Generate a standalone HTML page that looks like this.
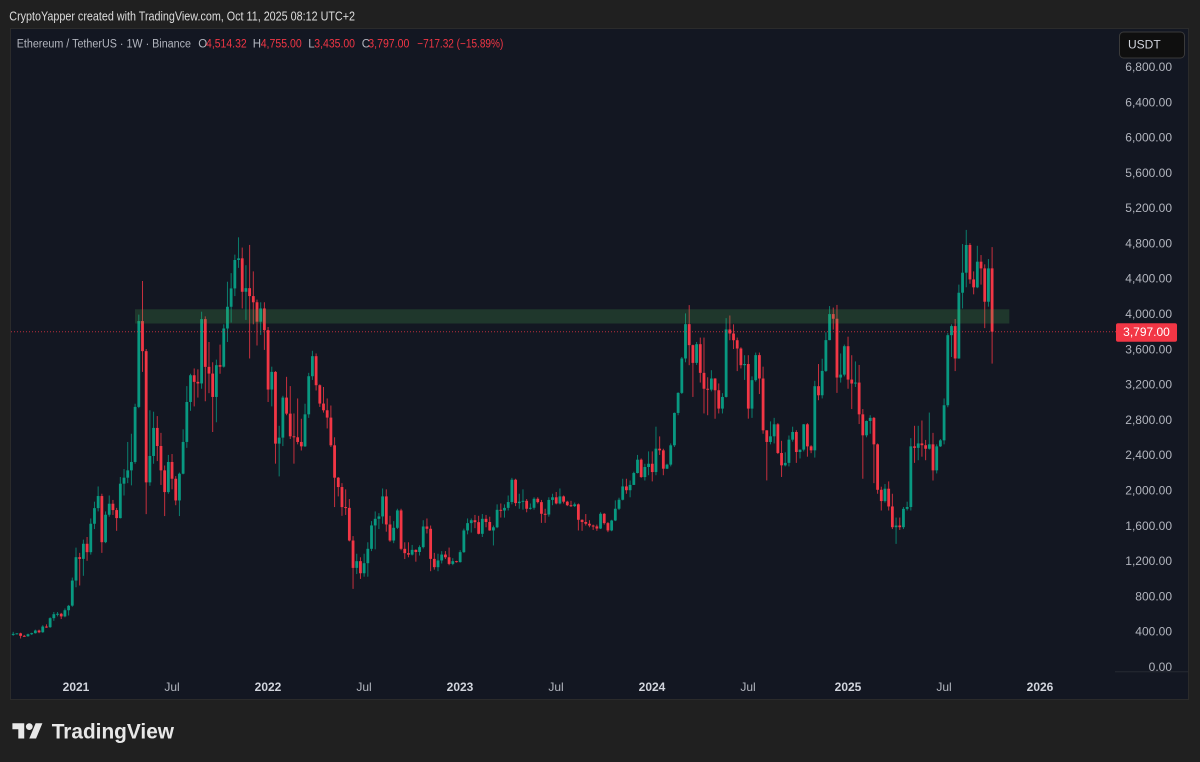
<!DOCTYPE html>
<html><head><meta charset="utf-8">
<style>
html,body{margin:0;padding:0;background:#202020;width:1200px;height:762px;overflow:hidden}
svg{display:block;font-family:"Liberation Sans",Arial,sans-serif}
</style></head>
<body>
<svg width="1200" height="762" viewBox="0 0 1200 762" xmlns="http://www.w3.org/2000/svg">
<rect width="1200" height="762" fill="#202020"/>
<text x="9.3" y="20.5" font-size="12.5" fill="#dcdcdc" textLength="345.7" lengthAdjust="spacingAndGlyphs">CryptoYapper created with TradingView.com, Oct 11, 2025 08:12 UTC+2</text>
<rect x="10.5" y="28.5" width="1178" height="671" fill="#131722" stroke="#2b2b2b"/>
<line x1="1115" y1="671.7" x2="1188" y2="671.7" stroke="#262a33"/>

<g font-size="11.5">
<text x="16.7" y="47.5" fill="#b2b5be" textLength="174.3" lengthAdjust="spacingAndGlyphs">Ethereum / TetherUS · 1W · Binance</text>
<text x="198.3" y="47.5" fill="#b2b5be">O</text>
<text x="206" y="47.5" fill="#f23645" textLength="40.7" lengthAdjust="spacingAndGlyphs">4,514.32</text>
<text x="252.7" y="47.5" fill="#b2b5be">H</text>
<text x="260.7" y="47.5" fill="#f23645" textLength="41" lengthAdjust="spacingAndGlyphs">4,755.00</text>
<text x="308.3" y="47.5" fill="#b2b5be">L</text>
<text x="314.3" y="47.5" fill="#f23645" textLength="40.7" lengthAdjust="spacingAndGlyphs">3,435.00</text>
<text x="361.7" y="47.5" fill="#b2b5be">C</text>
<text x="368.3" y="47.5" fill="#f23645" textLength="41" lengthAdjust="spacingAndGlyphs">3,797.00</text>
<text x="417.3" y="47.5" fill="#f23645" textLength="86" lengthAdjust="spacingAndGlyphs">−717.32 (−15.89%)</text>
</g>

<g id="c"></g>

<rect x="135" y="309.3" width="874.3" height="14.2" fill="rgba(76,175,80,0.22)"/>
<line x1="11" y1="331.7" x2="1116" y2="331.7" stroke="#f23645" stroke-opacity="0.75" stroke-dasharray="1 2"/>

<g font-size="12" fill="#b2b5be" text-anchor="end">
<text x="1172" y="71">6,800.00</text>
<text x="1172" y="106.3">6,400.00</text>
<text x="1172" y="141.6">6,000.00</text>
<text x="1172" y="176.9">5,600.00</text>
<text x="1172" y="212.2">5,200.00</text>
<text x="1172" y="247.4">4,800.00</text>
<text x="1172" y="282.7">4,400.00</text>
<text x="1172" y="318">4,000.00</text>
<text x="1172" y="353.3">3,600.00</text>
<text x="1172" y="388.6">3,200.00</text>
<text x="1172" y="423.9">2,800.00</text>
<text x="1172" y="459.2">2,400.00</text>
<text x="1172" y="494.5">2,000.00</text>
<text x="1172" y="529.8">1,600.00</text>
<text x="1172" y="565.1">1,200.00</text>
<text x="1172" y="600.4">800.00</text>
<text x="1172" y="635.7">400.00</text>
<text x="1172" y="671">0.00</text>
</g>

<rect x="1116" y="323.3" width="61" height="18.4" rx="2" fill="#f23645"/>
<text x="1146.5" y="336.2" font-size="12" fill="#ffffff" text-anchor="middle">3,797.00</text>

<rect x="1119.5" y="32" width="65" height="26" rx="4" fill="#0f0f0f" stroke="#3a3a3a"/>
<text x="1128" y="48.5" font-size="12" fill="#d1d4dc">USDT</text>

<g font-size="12" text-anchor="middle">
<text x="76" y="691" fill="#d1d4dc" font-weight="bold">2021</text>
<text x="172" y="691" fill="#b2b5be">Jul</text>
<text x="268" y="691" fill="#d1d4dc" font-weight="bold">2022</text>
<text x="364" y="691" fill="#b2b5be">Jul</text>
<text x="460" y="691" fill="#d1d4dc" font-weight="bold">2023</text>
<text x="556" y="691" fill="#b2b5be">Jul</text>
<text x="652" y="691" fill="#d1d4dc" font-weight="bold">2024</text>
<text x="748" y="691" fill="#b2b5be">Jul</text>
<text x="848" y="691" fill="#d1d4dc" font-weight="bold">2025</text>
<text x="944" y="691" fill="#b2b5be">Jul</text>
<text x="1040" y="691" fill="#d1d4dc" font-weight="bold">2026</text>
</g>

<g transform="translate(12.4,719.9) scale(0.845)" fill="#e8e8e8">
<path d="M14 22H7V11H0V4h14v18zM28 22h-8l7.5-18h8L28 22z"/>
<circle cx="20" cy="8" r="4"/>
</g>
<text x="51.7" y="738.3" font-size="21" font-weight="bold" fill="#e8e8e8" textLength="122.3" lengthAdjust="spacingAndGlyphs">TradingView</text>
</svg>

<script>
const D=[
[360,395,350,372],[372,380,365,378],[378,385,320,350],[350,360,340,345],[345,375,340,368],
[368,385,360,380],[380,420,375,410],[410,420,380,390],[390,470,385,455],[455,480,440,448],
[448,560,440,550],[550,620,520,595],[595,620,570,600],[600,610,540,570],[570,660,560,640],
[640,700,580,690],[692,1010,680,976],[976,1350,900,1241],[1241,1290,920,1222],[1222,1440,1030,1393],
[1393,1470,1200,1298],[1298,1680,1270,1620],[1620,1870,1560,1797],[1797,2043,1760,1934],[1934,1960,1290,1411],
[1411,1760,1400,1722],[1722,1940,1700,1847],[1847,1890,1720,1775],[1775,1800,1540,1684],[1684,2150,1680,2074],
[2074,2240,1940,2142],[2142,2547,2080,2225],[2225,2640,2055,2320],[2320,2980,2300,2944],[2944,3990,2930,3917],
[3917,4371,3341,3576],[3576,3600,1729,2089],[2089,2906,2050,2388],[2388,2890,2300,2706],[2706,2840,2330,2501],
[2501,2650,2060,2225],[2225,2280,1707,1979],[1979,2400,1960,2320],[2320,2410,2010,2130],[2130,2160,1830,1884],
[1884,2200,1707,2187],[2187,2690,2180,2547],[2547,3180,2480,3000],[3000,3320,2900,3303],[3303,3380,2950,3228],
[3228,3370,3050,3210],[3210,4023,3150,3939],[3939,3970,3008,3398],[3398,3680,3100,3322],[3322,3450,2660,3057],
[3057,3480,2770,3417],[3417,3650,3320,3400],[3400,3880,3390,3833],[3833,4363,3680,4079],[4079,4460,3900,4287],
[4287,4670,4200,4609],[4609,4866,4520,4628],[4628,4750,4060,4249],[4249,4550,3930,4290],[4290,4780,3493,4200],
[4200,4480,3880,4130],[4130,4160,3640,3910],[3910,4130,3760,4060],[4060,4130,3590,3814],[3814,3850,3000,3141],
[3141,3400,2950,3341],[3341,3350,2301,2528],[2528,2730,2157,2596],[2596,3070,2500,3050],[3050,3285,2850,2868],
[2868,3180,2580,2611],[2611,2870,2301,2600],[2600,3040,2520,2547],[2547,2810,2450,2497],[2497,2980,2490,2860],
[2860,3330,2820,3292],[3292,3580,3250,3519],[3519,3550,3130,3190],[3190,3200,2944,2982],[2982,3170,2880,2906],
[2906,3040,2700,2823],[2823,2960,2490,2509],[2509,2600,1809,2142],[2142,2150,1930,2036],[2036,2080,1710,1809],
[1809,2010,1720,1800],[1800,1900,1420,1430],[1430,1480,882,1120],[1120,1280,1050,1196],[1196,1240,995,1059],
[1059,1280,1020,1173],[1173,1410,1020,1336],[1336,1650,1310,1601],[1601,1760,1330,1676],[1676,1740,1560,1703],
[1703,2020,1620,1930],[1930,2010,1530,1612],[1612,1710,1415,1430],[1430,1650,1400,1574],[1574,1790,1560,1771],
[1771,1790,1320,1336],[1336,1410,1220,1287],[1287,1410,1240,1270],[1270,1380,1260,1324],[1324,1330,1190,1300],
[1300,1375,1260,1355],[1355,1660,1340,1589],[1589,1680,1510,1563],[1563,1600,1082,1222],[1222,1290,1100,1128],
[1128,1280,1082,1204],[1204,1310,1170,1271],[1271,1310,1220,1240],[1240,1350,1150,1165],[1165,1230,1150,1196],
[1196,1200,1180,1185],[1185,1320,1180,1298],[1298,1565,1290,1544],[1544,1680,1500,1627],[1627,1680,1520,1660],
[1660,1720,1570,1638],[1638,1710,1500,1506],[1506,1730,1470,1676],[1676,1720,1580,1640],[1640,1700,1540,1544],
[1544,1600,1374,1580],[1580,1840,1570,1778],[1778,1850,1690,1770],[1770,1840,1690,1800],[1800,1940,1770,1866],
[1866,2140,1840,2119],[2119,2130,1820,1854],[1854,1960,1790,1870],[1870,2010,1780,1880],[1880,1900,1750,1790],
[1790,1850,1780,1801],[1801,1920,1780,1903],[1903,1920,1850,1865],[1865,1890,1630,1733],[1733,1790,1630,1725],
[1725,1920,1700,1890],[1890,1960,1830,1920],[1920,1980,1840,1850],[1850,2020,1840,1930],[1930,1940,1850,1870],
[1870,1880,1820,1830],[1830,1880,1810,1820],[1820,1860,1810,1840],[1840,1850,1544,1665],[1665,1670,1540,1640],
[1640,1730,1600,1620],[1620,1660,1580,1600],[1600,1610,1550,1590],[1590,1610,1540,1566],[1566,1750,1560,1733],
[1733,1740,1610,1627],[1627,1640,1525,1544],[1544,1665,1535,1657],[1657,1885,1650,1790],[1790,1915,1775,1892],
[1892,2130,1885,2043],[2043,2130,1960,2000],[2000,2110,1920,2060],[2060,2210,2060,2195],[2195,2400,2190,2346],
[2346,2360,2140,2149],[2149,2300,2110,2263],[2263,2440,2170,2300],[2300,2440,2100,2206],[2206,2720,2170,2471],
[2471,2610,2400,2452],[2452,2470,2170,2244],[2244,2300,2240,2290],[2290,2530,2270,2509],[2509,2880,2490,2876],
[2876,3110,2850,3103],[3103,3510,3090,3493],[3493,4004,3450,3882],[3882,4098,3417,3644],[3644,3650,3057,3443],
[3443,3680,3420,3655],[3655,3730,3220,3330],[3330,3730,2870,3150],[3150,3280,2850,3140],[3140,3360,3120,3266],
[3266,3270,2810,3133],[3133,3210,2870,2925],[2925,3100,2870,3057],[3057,3950,3050,3822],[3822,3980,3700,3776],
[3776,3880,3600,3700],[3700,3730,3350,3606],[3606,3620,3380,3417],[3417,3530,3250,3430],[3430,3530,2811,2925],
[2925,3290,2820,3247],[3247,3560,3230,3531],[3531,3560,3090,3266],[3266,3400,2640,2679],[2679,2680,2111,2547],
[2547,2780,2520,2611],[2611,2820,2530,2747],[2747,2760,2410,2422],[2422,2560,2150,2282],[2282,2430,2270,2310],
[2310,2620,2270,2573],[2573,2720,2550,2660],[2660,2680,2310,2433],[2433,2460,2360,2460],[2460,2750,2440,2747],
[2747,2760,2380,2497],[2497,2510,2420,2452],[2452,3240,2370,3179],[3179,3430,3020,3076],[3076,3490,3040,3352],
[3352,3790,3340,3701],[3701,4087,3700,3996],[3996,4070,3820,3943],[3943,4100,3103,3277],[3277,3550,3220,3310],
[3310,3650,3290,3632],[3632,3740,3150,3254],[3254,3530,2920,3209],[3209,3460,3170,3220],[3220,3420,2750,2860],
[2860,2920,2130,2622],[2622,2790,2600,2785],[2785,2850,2640,2820],[2820,2830,2080,2520],[2520,2530,1960,2005],
[2005,2040,1770,1877],[1877,2070,1860,2017],[2017,2100,1770,1816],[1816,1960,1560,1581],[1581,1690,1392,1600],
[1600,1690,1550,1581],[1581,1810,1560,1789],[1789,1870,1770,1810],[1810,2590,1770,2497],[2497,2730,2310,2480],
[2480,2730,2340,2530],[2530,2790,2380,2510],[2510,2570,2340,2470],[2470,2880,2460,2520],[2520,2650,2110,2225],
[2225,2520,2190,2497],[2497,2580,2490,2565],[2565,3040,2520,2963],[2963,3780,2940,3757],[3757,3880,3510,3860],
[3860,3940,3350,3493],[3493,4330,3490,4238],[4238,4790,4060,4465],[4465,4950,4300,4779],[4779,4800,4340,4389],
[4389,4480,4220,4299],[4299,4770,4290,4590],[4590,4665,4330,4514],[4514,4560,3837,4136],[4136,4620,4080,4514],
[4514.32,4755,3435,3797]
];
const X=k=>13.2+3.694*k, Y=p=>666.7-p*0.08824;
let s='';
D.forEach((d,k)=>{
  const o=d[0],h=d[1],l=d[2],c=d[3];
  const col=c>=o?'#089981':'#f23645';
  const x=X(k).toFixed(2);
  const yt=Y(Math.max(o,c)), yb=Y(Math.min(o,c));
  const bh=Math.max(1,yb-yt);
  s+='<line x1="'+x+'" x2="'+x+'" y1="'+Y(h).toFixed(2)+'" y2="'+Y(l).toFixed(2)+'" stroke="'+col+'" stroke-opacity="0.8" stroke-width="1"/>';
  s+='<rect x="'+(X(k)-1.4).toFixed(2)+'" y="'+yt.toFixed(2)+'" width="2.8" height="'+bh.toFixed(2)+'" fill="'+col+'"/>';
});
document.getElementById('c').innerHTML=s;
</script>
</body></html>
